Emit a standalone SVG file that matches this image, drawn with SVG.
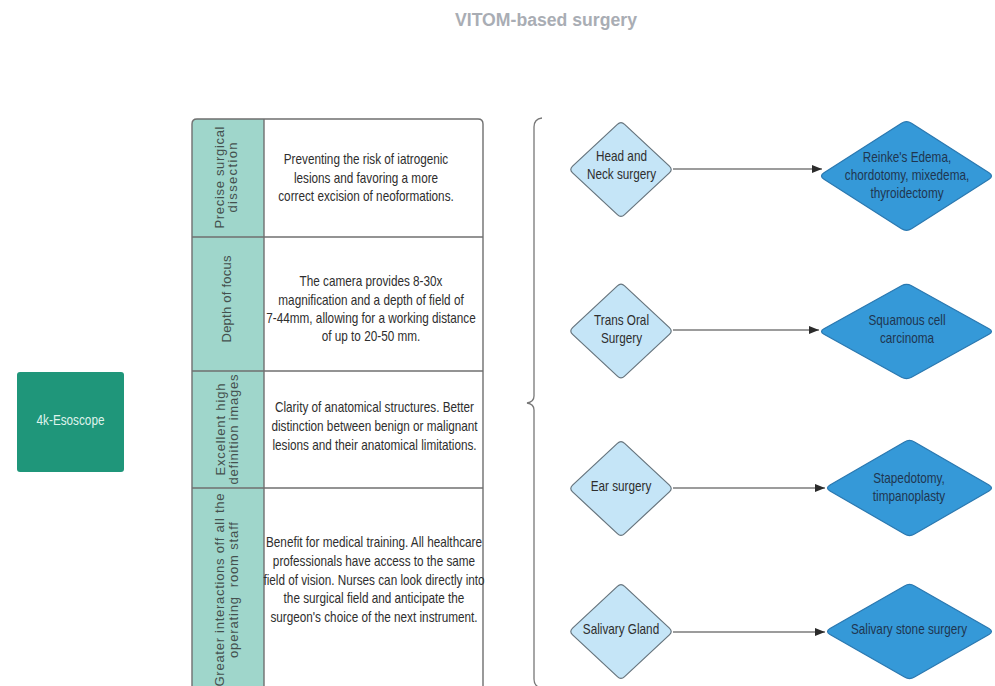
<svg xmlns="http://www.w3.org/2000/svg" width="995" height="686" viewBox="0 0 995 686">
<style>
.t{font-family:"Liberation Sans",Arial,sans-serif;font-size:14px;fill:#2e2e2e;text-anchor:middle}
.h{font-family:"Liberation Sans",Arial,sans-serif;font-size:13px;fill:#44504e;text-anchor:middle;white-space:pre}
.title{font-family:"Liberation Sans",Arial,sans-serif;font-size:18px;font-weight:bold;fill:#a9adb4;text-anchor:middle}
.dl{fill:#c5e5f7;stroke:#66747d;stroke-width:1.2}
.dd{fill:#3599d8;stroke:#2a78b0;stroke-width:1.2}
.td{fill:#1f3650}
.grid{stroke:#6f6f6f;stroke-width:1.4;fill:none}
.conn{stroke:#3a3a3a;stroke-width:1.2;fill:none}
</style>
<defs>
<marker id="ah" markerWidth="10" markerHeight="8" refX="10" refY="4" orient="auto" markerUnits="userSpaceOnUse">
<path d="M0,0 L10,4 L0,8 Z" fill="#2b2b2b"/>
</marker>
</defs>
<rect width="995" height="686" fill="#ffffff"/>
<text class="title" x="546" y="26" textLength="182" lengthAdjust="spacingAndGlyphs">VITOM-based surgery</text>

<g id="esoscope">
<rect x="17" y="372" width="107" height="100" rx="3" fill="#1f967a"/>
<g transform="translate(70.5,0) scale(0.84,1)"><text class="t" x="0" y="425.5" style="fill:#dff3ec">4k-Esoscope</text></g>
</g>

<g id="table">
<path d="M192,692 L192,124 Q192,119 197,119 L264,119 L264,692 Z" fill="#9fd6cb"/>
<path class="grid" d="M192,692 L192,124 Q192,119 197,119 L478,119 Q483,119 483,124 L483,692"/>
<line class="grid" x1="264" y1="119" x2="264" y2="692"/>
<line class="grid" x1="192" y1="237" x2="483" y2="237"/>
<line class="grid" x1="192" y1="371" x2="483" y2="371"/>
<line class="grid" x1="192" y1="488" x2="483" y2="488"/>
<g id="row1">
<text class="h" transform="translate(223.5,177.5) rotate(-90)" x="0" y="0" textLength="102" lengthAdjust="spacing">Precise surgical</text>
<text class="h" transform="translate(236.5,177.5) rotate(-90)" x="0" y="0" textLength="70" lengthAdjust="spacing">dissection</text>
<g transform="translate(366,0) scale(0.84,1)">
<text class="t" x="0" y="164.5">Preventing the risk of iatrogenic</text>
<text class="t" x="0" y="183">lesions and favoring a more</text>
<text class="t" x="0" y="201.5">correct excision of neoformations.</text>
</g>
</g>
<g id="row2">
<text class="h" transform="translate(231,299) rotate(-90)" x="0" y="0" textLength="87" lengthAdjust="spacing">Depth of focus</text>
<g transform="translate(371,0) scale(0.84,1)">
<text class="t" x="0" y="286.5">The camera provides 8-30x</text>
<text class="t" x="0" y="305.5">magnification and a depth of field of</text>
<text class="t" x="0" y="323.5">7-44mm, allowing for a working distance</text>
<text class="t" x="0" y="341.5">of up to 20-50 mm.</text>
</g>
</g>
<g id="row3">
<text class="h" transform="translate(225,429.5) rotate(-90)" x="0" y="0" textLength="92" lengthAdjust="spacing">Excellent high</text>
<text class="h" transform="translate(238,429.5) rotate(-90)" x="0" y="0" textLength="110" lengthAdjust="spacing">definition images</text>
<g transform="translate(374.5,0) scale(0.84,1)">
<text class="t" x="0" y="412.5">Clarity of anatomical structures. Better</text>
<text class="t" x="0" y="431.5">distinction between benign or malignant</text>
<text class="t" x="0" y="450.5">lesions and their anatomical limitations.</text>
</g>
</g>
<g id="row4">
<text class="h" transform="translate(224,590) rotate(-90)" x="0" y="0" textLength="193" lengthAdjust="spacing">Greater interactions off all the</text>
<text class="h" transform="translate(238,590) rotate(-90)" x="0" y="0" textLength="136" lengthAdjust="spacing">operating  room staff</text>
<g transform="translate(374,0) scale(0.84,1)">
<text class="t" x="0" y="547.5">Benefit for medical training. All healthcare</text>
<text class="t" x="0" y="566.5">professionals have access to the same</text>
<text class="t" x="0" y="585.5">field of vision. Nurses can look directly into</text>
<text class="t" x="0" y="603.5">the surgical field and anticipate the</text>
<text class="t" x="0" y="622.5">surgeon's choice of the next instrument.</text>
</g>
</g>
</g>

<g id="brace">
<path d="M542,118 Q534,119 534,127 L534,396 Q534,402 527,403 Q534,404 534,410 L534,679 Q534,687 542,688" fill="none" stroke="#777" stroke-width="1.3"/>
</g>

<g id="connectors">
<line class="conn" x1="673" y1="169" x2="822" y2="169" marker-end="url(#ah)"/>
<line class="conn" x1="673" y1="330" x2="819" y2="330" marker-end="url(#ah)"/>
<line class="conn" x1="673" y1="488" x2="825" y2="488" marker-end="url(#ah)"/>
<line class="conn" x1="673" y1="632" x2="825" y2="632" marker-end="url(#ah)"/>
</g>

<g id="head-neck">
<path class="dl" transform="translate(621,169.5)" d="M-3.6,-45.1 Q0,-48.5 3.6,-45.1 L48.4,-3.4 Q52,0 48.4,3.4 L3.6,45.1 Q0,48.5 -3.6,45.1 L-48.4,3.4 Q-52,0 -48.4,-3.4 Z"/>
<g transform="translate(621.5,0) scale(0.84,1)">
<text class="t" x="0" y="161.5">Head and</text>
<text class="t" x="0" y="179.5">Neck surgery</text>
</g>
</g>
<g id="trans-oral">
<path class="dl" transform="translate(621,331)" d="M-3.6,-45.1 Q0,-48.5 3.6,-45.1 L48.4,-3.4 Q52,0 48.4,3.4 L3.6,45.1 Q0,48.5 -3.6,45.1 L-48.4,3.4 Q-52,0 -48.4,-3.4 Z"/>
<g transform="translate(621.5,0) scale(0.84,1)">
<text class="t" x="0" y="325.5">Trans Oral</text>
<text class="t" x="0" y="343.5">Surgery</text>
</g>
</g>
<g id="ear">
<path class="dl" transform="translate(621,488.5)" d="M-3.6,-45.1 Q0,-48.5 3.6,-45.1 L48.4,-3.4 Q52,0 48.4,3.4 L3.6,45.1 Q0,48.5 -3.6,45.1 L-48.4,3.4 Q-52,0 -48.4,-3.4 Z"/>
<g transform="translate(621,0) scale(0.84,1)">
<text class="t" x="0" y="491.5">Ear surgery</text>
</g>
</g>
<g id="salivary">
<path class="dl" transform="translate(621,631.5)" d="M-3.6,-45.1 Q0,-48.5 3.6,-45.1 L48.4,-3.4 Q52,0 48.4,3.4 L3.6,45.1 Q0,48.5 -3.6,45.1 L-48.4,3.4 Q-52,0 -48.4,-3.4 Z"/>
<g transform="translate(621,0) scale(0.84,1)">
<text class="t" x="0" y="634.5">Salivary Gland</text>
</g>
</g>

<g id="reinke">
<path class="dd" transform="translate(906.5,176)" d="M-5,-52.8 Q0,-56 5,-52.8 L82.5,-3.2 Q87.5,0 82.5,3.2 L5,52.8 Q0,56 -5,52.8 L-82.5,3.2 Q-87.5,0 -82.5,-3.2 Z"/>
<g transform="translate(907,0) scale(0.84,1)">
<text class="t td" x="0" y="162.5">Reinke's Edema,</text>
<text class="t td" x="0" y="180.5">chordotomy, mixedema,</text>
<text class="t td" x="0" y="198.5">thyroidectomy</text>
</g>
</g>
<g id="squamous">
<path class="dd" transform="translate(906.5,331.5)" d="M-5,-45.7 Q0,-48.5 5,-45.7 L82.5,-2.8 Q87.5,0 82.5,2.8 L5,45.7 Q0,48.5 -5,45.7 L-82.5,2.8 Q-87.5,0 -82.5,-2.8 Z"/>
<g transform="translate(907,0) scale(0.84,1)">
<text class="t td" x="0" y="325.5">Squamous cell</text>
<text class="t td" x="0" y="343.5">carcinoma</text>
</g>
</g>
<g id="stapedotomy">
<path class="dd" transform="translate(909.5,488)" d="M-5,-46.1 Q0,-49 5,-46.1 L79.5,-2.9 Q84.5,0 79.5,2.9 L5,46.1 Q0,49 -5,46.1 L-79.5,2.9 Q-84.5,0 -79.5,-2.9 Z"/>
<g transform="translate(909,0) scale(0.84,1)">
<text class="t td" x="0" y="483.5">Stapedotomy,</text>
<text class="t td" x="0" y="501.5">timpanoplasty</text>
</g>
</g>
<g id="salivary-stone">
<path class="dd" transform="translate(909.5,631.5)" d="M-5,-45.6 Q0,-48.5 5,-45.6 L79.5,-2.9 Q84.5,0 79.5,2.9 L5,45.6 Q0,48.5 -5,45.6 L-79.5,2.9 Q-84.5,0 -79.5,-2.9 Z"/>
<g transform="translate(909,0) scale(0.84,1)">
<text class="t td" x="0" y="634.5">Salivary stone surgery</text>
</g>
</g>
</svg>
